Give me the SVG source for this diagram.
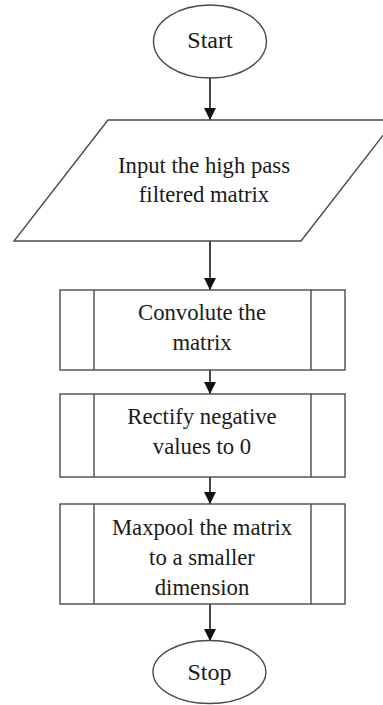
<svg xmlns="http://www.w3.org/2000/svg" width="383" height="705" viewBox="0 0 383 705">
<style>
.shape{fill:#ffffff;stroke:#4a4a4a;stroke-width:1.4}
.t{font-family:"Liberation Serif","Times New Roman",serif;font-size:22.7px;fill:#1a1a1a;text-anchor:middle}
.tt{font-size:24px}
.conn{stroke:#1a1a1a;stroke-width:1.6;fill:none;marker-end:url(#ah)}
</style>
<defs>
<marker id="ah" markerWidth="12" markerHeight="12" refX="12" refY="6" orient="auto" markerUnits="userSpaceOnUse">
<path d="M0,0 L12,6 L0,12 Z" fill="#111"/>
</marker>
</defs>
<rect width="383" height="705" fill="#ffffff"/>
<g id="connectors">
<line class="conn" x1="210" y1="78" x2="210" y2="120"/>
<line class="conn" x1="210" y1="241" x2="210" y2="290"/>
<line class="conn" x1="210" y1="370" x2="210" y2="394"/>
<line class="conn" x1="210" y1="477" x2="210" y2="504"/>
<line class="conn" x1="210" y1="604" x2="210" y2="641"/>
</g>
<g id="start">
<ellipse class="shape" cx="210" cy="41.5" rx="56.5" ry="36.5"/>
<text class="t tt" x="210" y="48">Start</text>
</g>
<g id="input">
<polygon class="shape" points="108,120 395,120 301,241 14,241"/>
<text class="t" x="204" y="173">Input the high pass</text>
<text class="t" x="204" y="202">filtered matrix</text>
</g>
<g id="convolute">
<rect class="shape" x="60" y="290" width="285" height="80"/>
<line class="shape" x1="94" y1="290" x2="94" y2="370"/>
<line class="shape" x1="311" y1="290" x2="311" y2="370"/>
<text class="t" x="202" y="320">Convolute the</text>
<text class="t" x="202" y="350">matrix</text>
</g>
<g id="rectify">
<rect class="shape" x="60" y="394" width="285" height="83"/>
<line class="shape" x1="94" y1="394" x2="94" y2="477"/>
<line class="shape" x1="311" y1="394" x2="311" y2="477"/>
<text class="t" x="202" y="424">Rectify negative</text>
<text class="t" x="202" y="454">values to 0</text>
</g>
<g id="maxpool">
<rect class="shape" x="60" y="504" width="285" height="100"/>
<line class="shape" x1="94" y1="504" x2="94" y2="604"/>
<line class="shape" x1="311" y1="504" x2="311" y2="604"/>
<text class="t" x="202" y="535">Maxpool the matrix</text>
<text class="t" x="202" y="565">to a smaller</text>
<text class="t" x="202" y="595">dimension</text>
</g>
<g id="stop">
<ellipse class="shape" cx="209.5" cy="672" rx="56.5" ry="31.5"/>
<text class="t tt" x="209.5" y="680">Stop</text>
</g>
</svg>
